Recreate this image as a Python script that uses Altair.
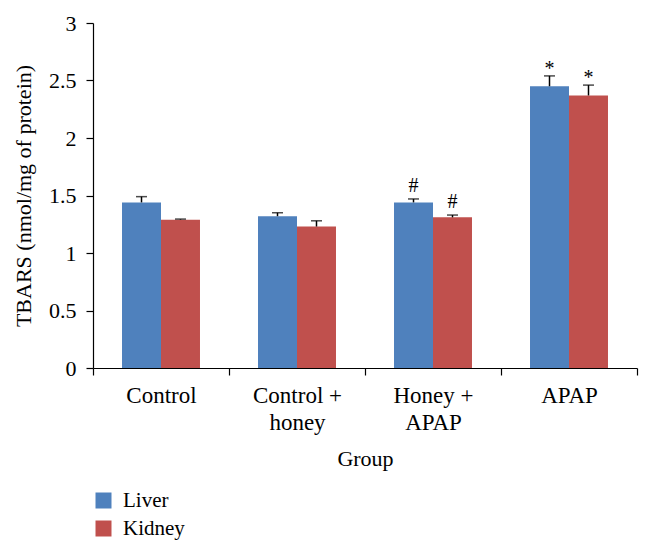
import altair as alt
import pandas as pd

groups = ["Control", "Control + honey", "Honey + APAP", "APAP"]
organs = ["Liver", "Kidney"]
liver = [1.44, 1.32, 1.44, 2.45]
liver_err = [0.05, 0.03, 0.03, 0.09]
kidney = [1.29, 1.23, 1.31, 2.37]
kidney_err = [0.005, 0.05, 0.02, 0.09]
liver_sig = ["", "", "#", "*"]
kidney_sig = ["", "", "#", "*"]
colors = ["#4F81BD", "#C0504D"]

rows = []
for i, g in enumerate(groups):
    rows.append({"group": g, "organ": "Liver", "value": liver[i],
                 "top": liver[i] + liver_err[i], "sig": liver_sig[i]})
    rows.append({"group": g, "organ": "Kidney", "value": kidney[i],
                 "top": kidney[i] + kidney_err[i], "sig": kidney_sig[i]})
df = pd.DataFrame(rows)

FONT = "Liberation Serif"

x = alt.X("group:N", sort=groups,
          scale=alt.Scale(paddingInner=0, paddingOuter=0),
          axis=alt.Axis(title="Group", labelAngle=0, tickBand="extent",
                        labelExpr="datum.label == 'Control + honey' ? ['Control +', 'honey'] : datum.label == 'Honey + APAP' ? ['Honey +', 'APAP'] : datum.label",
                        labelLineHeight=27, labelPadding=9, titlePadding=14,
                        tickSize=7, labelFontSize=23))
xo = alt.XOffset("organ:N", sort=organs,
                 scale=alt.Scale(paddingInner=0, paddingOuter=0.744))
y_axis = alt.Axis(title="TBARS (nmol/mg of protein)", values=[0, 0.5, 1, 1.5, 2, 2.5, 3],
                  format="~g", tickSize=7, labelPadding=10, titlePadding=13, grid=False)

base = alt.Chart(df)

bars = base.mark_bar().encode(
    x=x, xOffset=xo,
    y=alt.Y("value:Q", scale=alt.Scale(domain=[0, 3], nice=False), axis=y_axis),
    color=alt.Color("organ:N", sort=organs,
                    scale=alt.Scale(domain=organs, range=colors),
                    legend=alt.Legend(title=None, orient="none", legendX=0, legendY=467,
                                      symbolType="square", symbolSize=256,
                                      symbolStrokeWidth=0, labelFontSize=21,
                                      labelOffset=9, rowPadding=6, padding=0,
                                      labelFont=FONT, labelColor="black")),
)

err = base.mark_rule(color="black", strokeWidth=1.5).encode(
    x=x, xOffset=xo, y="value:Q", y2="top:Q")

cap = base.mark_tick(color="black", thickness=1.5, size=11).encode(
    x=x, xOffset=xo, y="top:Q")

hash_txt = base.transform_filter("datum.sig == '#'").mark_text(
    baseline="alphabetic", dy=-7, fontSize=20, font=FONT, color="black").encode(
    x=x, xOffset=xo, y="top:Q", text="sig:N")

star_txt = base.transform_filter("datum.sig == '*'").mark_text(
    baseline="alphabetic", dy=-1, fontSize=20, font=FONT, color="black").encode(
    x=x, xOffset=xo, y="top:Q", text="sig:N")

chart = alt.layer(bars, err, cap, hash_txt, star_txt).properties(
    width=544, height=345,
    autosize=alt.AutoSizeParams(type="none"),
    padding={"left": 85, "top": 15, "right": 5, "bottom": 183},
).configure_view(stroke=None).configure_axis(
    domainColor="black", tickColor="black", labelColor="black", titleColor="black",
    labelFont=FONT, titleFont=FONT, labelFontSize=22, titleFontSize=22,
    titleFontWeight="normal", domainWidth=1.2, tickWidth=1.2,
)

chart.save("out.html", embed_options={"renderer": "svg", "actions": False})
